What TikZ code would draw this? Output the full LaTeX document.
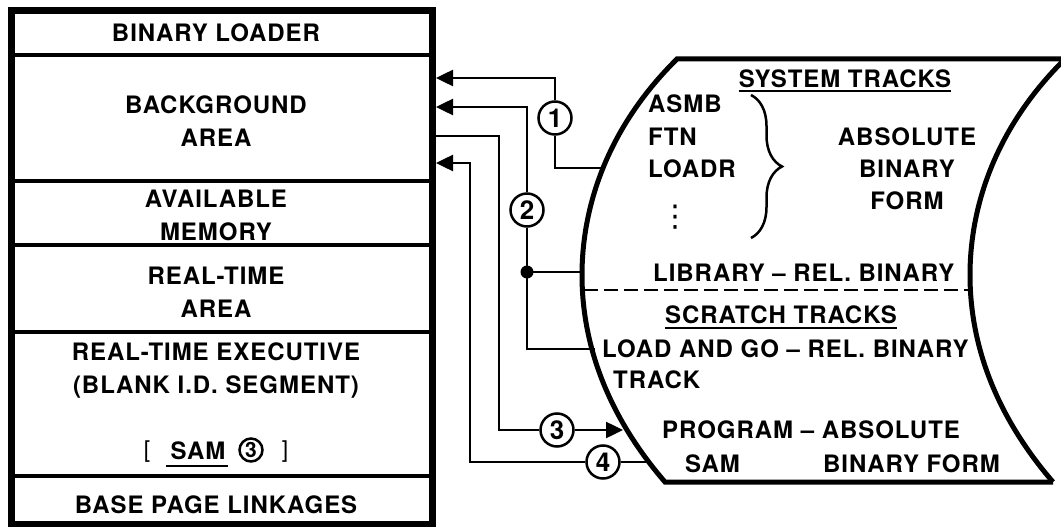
\documentclass[tikz,border=0pt]{standalone}
\usepackage{fontspec}
\setmainfont{TeX Gyre Heros}[LetterSpace=4]
\newfontfamily\symfont{DejaVu Sans}
\usetikzlibrary{arrows.meta,decorations.pathreplacing}

\begin{document}
\begin{tikzpicture}[x=1pt, y=-1pt, >={Triangle[length=17pt,width=16pt]},
  txt/.style={font=\fontsize{24}{33}\selectfont\bfseries, inner sep=0pt, align=center},
  num/.style={circle, draw, line width=2.5pt, minimum size=33pt, inner sep=0pt,
    font=\fontsize{26}{28}\selectfont\bfseries},
  link/.style={line width=2.5pt},
  heavy/.style={line width=5pt},
  uline/.style={line width=2pt}]
  \useasboundingbox (0,0) rectangle (1061,527);

  % memory map
  \draw[line width=7pt] (11,11) rectangle (432,524);
  \foreach \y in {55,181,245,332,476}
    \draw[line width=4.5pt] (11,\y) -- (432,\y);
  \node[txt] (bload) at (216,33) {BINARY LOADER};
  \node[txt] (bgnd) at (216,121.5) {BACKGROUND\\AREA};
  \node[txt] (avail) at (216,215) {AVAILABLE\\MEMORY};
  \node[txt] (rtarea) at (216,292) {REAL-TIME\\AREA};
  \node[txt] (rtexec) at (216,371) {REAL-TIME EXECUTIVE\\(BLANK I.D. SEGMENT)};
  \node[txt, font=\fontsize{23}{26}\selectfont] (lbr) at (147,452) {[};
  \node[txt] (sam) at (198,451) {SAM};
  \draw[uline] ([xshift=-4pt,yshift=-6pt]sam.south west) -- ([xshift=2pt,yshift=-6pt]sam.south east);
  \node[num, minimum size=23pt, font=\fontsize{21}{22}\selectfont\bfseries] (c5) at (251,450) {3};
  \node[txt, font=\fontsize{23}{26}\selectfont] (rbr) at (285,452) {]};
  \node[txt] (bpage) at (216,505) {BASE PAGE LINKAGES};

  % disc
  \draw[heavy] (1070,59) -- (677,59)
    .. controls (605,130) and (582,210) .. (582,275)
    .. controls (582,360) and (620,430) .. (665,482) -- (1053,482);
  \draw[heavy] (1065,59) .. controls (993,130) and (970,210) .. (970,275)
    .. controls (970,360) and (1008,430) .. (1053,482);
  \draw[link, dash pattern=on 14pt off 6pt] (584,290) -- (972,290);

  \node[txt] (systr) at (845,78.5) {SYSTEM TRACKS};
  \draw[uline] ([yshift=-3pt]systr.south west) -- ([yshift=-3pt]systr.south east);
  \node[txt, anchor=west] (asmb) at (648,103.5) {ASMB};
  \node[txt, anchor=west] (ftn) at (648,136.5) {FTN};
  \node[txt, anchor=west] (loadr) at (648,168.5) {LOADR};
  \node[inner sep=0pt, font=\symfont\fontsize{30}{30}\selectfont] (dots) at (675,217) {⋮};
  \draw[line width=2.5pt, decorate, decoration={brace, amplitude=31pt}] (751,95) -- (751,238);
  \node[txt, font=\fontsize{24}{32}\selectfont\bfseries] (absbin) at (907,169) {ABSOLUTE\\BINARY\\FORM};
  \node[txt, anchor=west] (lib) at (653,272.5) {LIBRARY -- REL. BINARY};
  \node[txt, anchor=west] (scrtr) at (665,315) {SCRATCH TRACKS};
  \draw[uline] ([yshift=-4pt]scrtr.south west) -- ([yshift=-4pt]scrtr.south east);
  \node[txt, anchor=west] (lgo) at (602,348.5) {LOAD AND GO -- REL. BINARY};
  \node[txt, anchor=west] (track) at (613,380) {TRACK};
  \node[txt, anchor=west] (prog) at (662,430) {PROGRAM -- ABSOLUTE};
  \node[txt, anchor=west] (psam) at (685,464) {SAM};
  \node[txt, anchor=west] (pform) at (823,464) {BINARY FORM};

  % connectors
  \coordinate (p1) at (436,78);
  \coordinate (q1) at (601,168);
  \coordinate (p2) at (436,107);
  \coordinate (q2) at (583,272);
  \coordinate (q3) at (595,349);
  \coordinate (s3) at (432,136);
  \coordinate (k3) at (499,430);
  \coordinate (q4) at (623,430);
  \coordinate (p4) at (436,163);
  \coordinate (k4) at (470,462);
  \coordinate (q5) at (649,462);
  \node[num] (c1) at (555,118) {1};
  \node[num] (c2) at (527,210) {2};
  \node[num] (c3) at (557,430) {3};
  \node[num] (c4) at (603,462) {4};
  \fill (527,272) circle (6.5) coordinate (jdot);

  \draw[link, <-] (p1) -| (c1);
  \draw[link] (c1) |- (q1);
  \draw[link, <-] (p2) -| (c2);
  \draw[link] (c2) -- (jdot) -- (q2);
  \draw[link] (jdot) |- (q3);
  \draw[link] (s3) -| (k3) -- (c3);
  \draw[link, ->] (c3) -- (q4);
  \draw[link, <-] (p4) -| (k4) -- (c4);
  \draw[link] (c4) -- (q5);
\end{tikzpicture}
\end{document}
